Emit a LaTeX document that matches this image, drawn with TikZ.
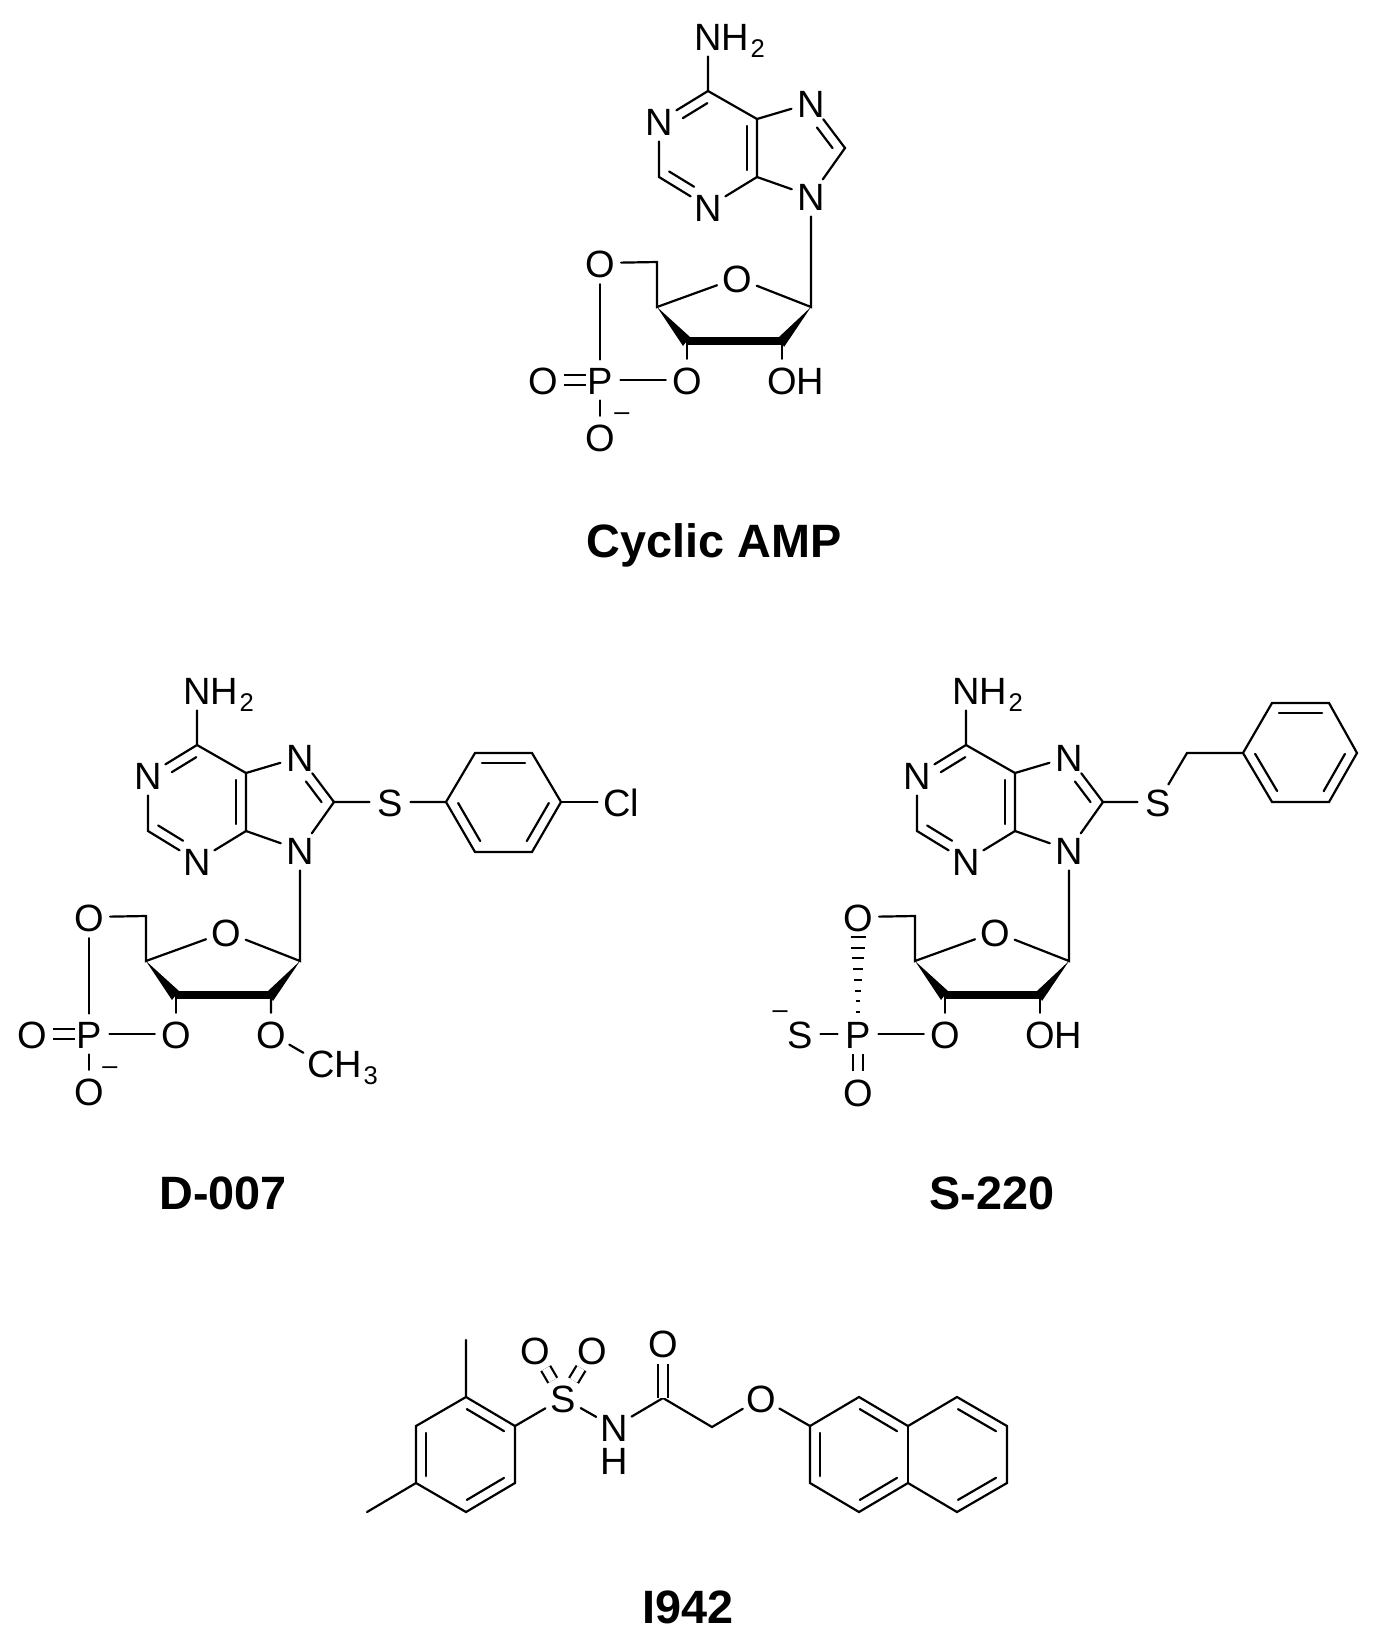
\documentclass[tikz,border=0pt]{standalone}
\usepackage{fontspec}
\setmainfont{Liberation Sans}
\usetikzlibrary{calc}

% subscript and text running on to the right of an atom letter
\newcommand{\subs}[1]{\kern0.7pt\raisebox{-3.5pt}{\fontsize{12.8}{13}\selectfont #1}}
\newcommand{\tail}[1]{\rlap{\smash{#1}}}
% second line of a double bond, on the left of the way from #1 to #2
\newcommand{\innerbond}[4]{\draw[bond] ($(#1)!#3!(#2)!5pt!90:(#2)$) -- ($(#1)!#4!(#2)!5pt!90:(#2)$);}
% the part that all three nucleotides share
\newcommand{\nucleotide}{
  \node [atom] (nh) at (708,36) {N\tail{H\subs{2}}};
  \coordinate (c6) at (708,91);
  \node [atom] (n1) at (659,121) {N};
  \coordinate (c2) at (659,177);
  \node [atom] (n3) at (708,207) {N};
  \coordinate (c4) at (757,177);
  \coordinate (c5) at (757,119);
  \node [atom] (n7) at (811,103) {N};
  \coordinate (c8) at (845,148);
  \node [atom] (n9) at (811,196) {N};
  \coordinate (c1s) at (811,307);
  \node [atom] (o4s) at (737,278) {O};
  \coordinate (c4s) at (657,307);
  \coordinate (c3s) at (687,341);
  \coordinate (c2s) at (782,341);
  \coordinate (c5s) at (657,262);
  \node [atom] (o5s) at (600,263) {O};
  \node [atom] (pp) at (600,380) {P};
  \node [atom] (o3s) at (687,380) {O};
  \draw [bond] (nh) -- (c6) -- (n1) -- (c2) -- (n3) -- (c4) -- (c5) -- (c6);
  \draw [bond] (c5) -- (n7) -- (c8) -- (n9) -- (c4);
  \draw [bond] (n9) -- (c1s) -- (o4s) -- (c4s) -- (c5s) -- (o5s);
  \draw [bond] (c3s) -- (o3s) -- (pp);
  \innerbond{c6}{n1}{.12}{.62}
  \innerbond{c2}{n3}{.1}{.61}
  \innerbond{c4}{c5}{.12}{.88}
  \innerbond{c8}{n7}{.13}{.59}
  % front edge of the sugar ring
  \draw [boldbond] (c3s) -- (c2s);
  \fill (c4s) -- ($(c3s)+(3,-4)$) -- ($(c3s)+(-4,5)$) -- cycle;
  \fill (c1s) -- ($(c2s)+(-3,-4)$) -- ($(c2s)+(2,6)$) -- cycle;
}

\begin{document}
\begin{tikzpicture}[
    x=0.5pt, y=-0.5pt,
    atom/.style={circle, inner sep=0pt, minimum size=20pt, text height=14.6pt, text depth=0pt, font=\fontsize{19}{20}\selectfont},
    charge/.style={inner sep=0pt, font=\fontsize{13.5}{14}\selectfont},
    bond/.style={draw, line width=1.1pt, line cap=round},
    dbond/.style={draw, line width=1.1pt, double, double distance=4pt},
    boldbond/.style={draw, line width=4pt},
    title/.style={inner sep=0pt, font=\fontsize{23.4}{25}\selectfont\bfseries}
]
\useasboundingbox (0,0) rectangle (1374,1644);

% Cyclic AMP
\begin{scope}[name prefix=amp-]
  \nucleotide
  \node [atom] (oh) at (782,380) {O\tail{H}};
  \node [atom] (odb) at (543,380) {O};
  \node [atom] (omin) at (600,437) {O};
  \node [charge] (minus) at (622,417) {–};
  \draw [bond] (o5s) -- (pp) -- (omin);
  \draw [bond] (c2s) -- (oh);
  \draw [dbond, shorten >=-3pt] (odb) -- (pp);
\end{scope}
\node [title] (ampname) at (714,545) {Cyclic AMP};

% D-007
\begin{scope}[shift={(-511,654)}, name prefix=dz-]
  \nucleotide
  \node [atom] (ome) at (782,380) {O};
  \node [atom] (cme) at (832,409) {C\tail{H\subs{3}}};
  \node [atom] (odb) at (543,380) {O};
  \node [atom] (omin) at (600,437) {O};
  \node [charge] (minus) at (621,417) {–};
  \node [atom] (ss) at (901,148) {S};
  \coordinate (ra) at (957,148);
  \coordinate (rb) at (986,99);
  \coordinate (rc) at (1043,99);
  \coordinate (rd) at (1072,148);
  \coordinate (re) at (1043,198);
  \coordinate (rf) at (986,198);
  \node [atom] (cl) at (1132,148) {Cl};
  \draw [bond] (o5s) -- (pp) -- (omin);
  \draw [bond] (c2s) -- (ome) -- (cme);
  \draw [dbond, shorten >=-3pt] (odb) -- (pp);
  \draw [bond] (c8) -- (ss) -- (ra) -- (rb) -- (rc) -- (rd) -- (re) -- (rf) -- (ra);
  \draw [bond] (rd) -- (cl);
  \innerbond{rc}{rb}{.12}{.88}
  \innerbond{ra}{rf}{.12}{.88}
  \innerbond{re}{rd}{.12}{.88}
\end{scope}
\node [title] (dzname) at (223,1193) {D-007};

% S-220
\begin{scope}[shift={(258,654)}, name prefix=sb-]
  \nucleotide
  \node [atom] (oh) at (782,380) {O\tail{H}};
  \node [atom] (sneg) at (542,380) {S};
  \node [atom] (odb) at (600,438) {O};
  \node [charge] (minus) at (522,361) {–};
  \node [atom] (ss) at (900,148) {S};
  \coordinate (cb) at (929,99);
  \coordinate (ra) at (985,99);
  \coordinate (rb) at (1014,49);
  \coordinate (rc) at (1071,49);
  \coordinate (rd) at (1099,99);
  \coordinate (re) at (1071,148);
  \coordinate (rf) at (1014,148);
  \draw [bond] (sneg) -- (pp);
  \draw [bond] (c2s) -- (oh);
  \draw [dbond] (odb) -- (pp);
  % hashed bond, wide at the oxygen
  \foreach \k in {0,...,7} {
    \pgfmathsetmacro{\w}{7.5-\k*0.85}
    \pgfmathsetmacro{\t}{\k/7}
    \draw [line width=1pt] ($(600,283)!\t!(600,358)+(-\w,0)$) -- ($(600,283)!\t!(600,358)+(\w,0)$);
  }
  \draw [bond] (c8) -- (ss) -- (cb) -- (ra) -- (rb) -- (rc) -- (rd) -- (re) -- (rf) -- (ra);
  \innerbond{rc}{rb}{.12}{.88}
  \innerbond{ra}{rf}{.12}{.88}
  \innerbond{re}{rd}{.12}{.88}
\end{scope}
\node [title] (sbname) at (992,1193) {S-220};

% I942
\node [atom] (so) at (563,1398) {S};
\node [atom] (oa) at (535,1350) {O};
\node [atom] (ob) at (592,1350) {O};
\node [atom] (nn) at (614,1427) {N};
\node [atom] (hh) at (614,1460) {H};
\coordinate (co) at (663,1398);
\node [atom] (oc) at (663,1343) {O};
\coordinate (ch) at (712,1427);
\node [atom] (oe) at (761,1398) {O};
\coordinate (ma) at (466,1340);
\coordinate (mb) at (367,1512);
\coordinate (ba) at (466,1397);
\coordinate (bb) at (416,1426);
\coordinate (bc) at (416,1483);
\coordinate (bd) at (466,1512);
\coordinate (be) at (515,1483);
\coordinate (bf) at (515,1426);
\coordinate (na) at (810,1426);
\coordinate (nb) at (859,1397);
\coordinate (nc) at (908,1426);
\coordinate (nd) at (957,1397);
\coordinate (ne) at (1007,1426);
\coordinate (nf) at (1007,1483);
\coordinate (ng) at (957,1512);
\coordinate (nh) at (908,1483);
\coordinate (ni) at (859,1512);
\coordinate (nj) at (810,1483);

\draw [bond] (ba) -- (bb) -- (bc) -- (bd) -- (be) -- (bf) -- (ba) -- (ma);
\draw [bond] (bc) -- (mb);
\draw [bond] (bf) -- (so) -- (nn) -- (co) -- (ch) -- (oe) -- (na);
\draw [dbond] (so) -- (oa);
\draw [dbond] (so) -- (ob);
\draw [dbond] (co) -- (oc);
\draw [bond] (na) -- (nb) -- (nc) -- (nd) -- (ne) -- (nf) -- (ng) -- (nh) -- (ni) -- (nj) -- (na);
\draw [bond] (nc) -- (nh);
\innerbond{bb}{bc}{.12}{.88}
\innerbond{bd}{be}{.12}{.88}
\innerbond{bf}{ba}{.12}{.88}
\innerbond{nc}{nb}{.12}{.88}
\innerbond{na}{nj}{.12}{.88}
\innerbond{ni}{nh}{.12}{.88}
\innerbond{ne}{nd}{.12}{.88}
\innerbond{ng}{nf}{.12}{.88}
\node [title] (iname) at (688,1607) {I942};

\end{tikzpicture}
\end{document}
